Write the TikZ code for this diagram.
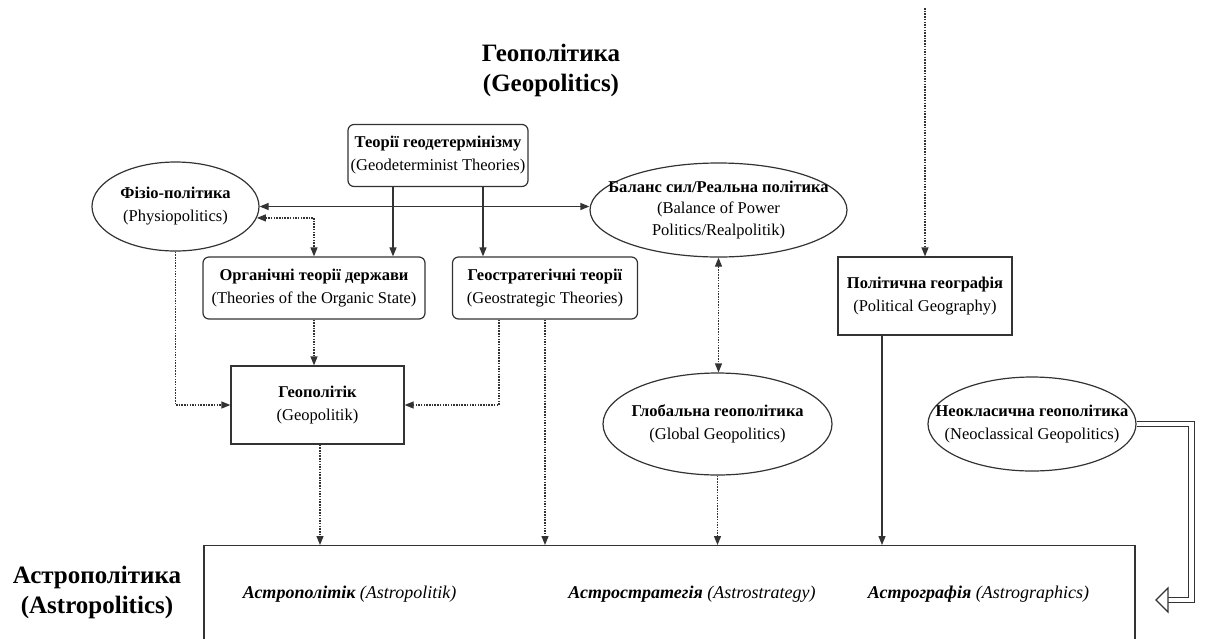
\documentclass[tikz,border=0pt]{standalone}
\usepackage{fontspec}
\setmainfont{Liberation Serif}
\usetikzlibrary{shapes.geometric,arrows.meta}
\tikzset{
  txt/.style={align=center, font=\fontsize{16.5}{23}\selectfont},
  box/.style={txt, draw=black!80, line width=1.2pt, inner sep=2pt},
  rbox/.style={box, rounded corners=6pt},
  ell/.style={box, ellipse, inner sep=0pt},
  line/.style={draw=black!80, line width=1.2pt},
  dotline/.style={line, dash pattern=on 1.5pt off 1.2pt},
}
\begin{document}
\begin{tikzpicture}[x=1pt, y=-1pt, >={Triangle[length=9pt,width=7pt]}]
  \clip (0,0) rectangle (1206,638);
  \node[txt, font=\fontsize{25}{30}\selectfont\bfseries] (title) at (551,70) {Геополітика\\(Geopolitics)};
  \node[rbox, minimum width=180pt, minimum height=62pt] (geodet) at (438,155.5) {\textbf{Теорії геодетермінізму}\\(Geodeterminist Theories)};
  \node[ell, minimum width=167pt, minimum height=89pt, label={[txt]center:{\textbf{Фізіо-політика}\\(Physiopolitics)}}] (physio) at (175.5,206.5) {};
  \node[ell, minimum width=257pt, minimum height=94pt, label={[txt, font=\fontsize{16.5}{21.5}\selectfont]center:{\textbf{Баланс сил/Реальна політика}\\(Balance of Power\\Politics/Realpolitik)}}] (balance) at (718.5,210) {};
  \node[rbox, minimum width=222pt, minimum height=62pt] (organic) at (314,288) {\textbf{Органічні теорії держави}\\(Theories of the Organic State)};
  \node[rbox, minimum width=185pt, minimum height=62pt] (geostrat) at (545,288) {\textbf{Геостратегічні теорії}\\(Geostrategic Theories)};
  \node[box, minimum width=174pt, minimum height=78pt] (polgeo) at (925,296) {\textbf{Політична географія}\\(Political Geography)};
  \node[box, minimum width=173pt, minimum height=78pt] (geopolitik) at (317.5,405) {\textbf{Геополітік}\\(Geopolitik)};
  \node[ell, minimum width=229pt, minimum height=102pt, label={[txt]center:{\textbf{Глобальна геополітика}\\(Global Geopolitics)}}] (global) at (717.5,424) {};
  \node[ell, minimum width=208pt, minimum height=94pt, label={[txt]center:{\textbf{Неокласична геополітика}\\(Neoclassical Geopolitics)}}] (neo) at (1032,424) {};
  \node[box, minimum width=931pt, minimum height=120pt, anchor=north] (astro) at (669.5,545) {};
  \node[txt, font=\fontsize{25}{30}\selectfont\bfseries] (astrotitle) at (97,592) {Астрополітика\\(Astropolitics)};
  \node[txt, font=\fontsize{18}{22}\selectfont\itshape] (apolitik) at (349.5,594) {\textbf{Астрополітік} (Astropolitik)};
  \node[txt, font=\fontsize{18}{22}\selectfont\itshape] (astrat) at (692,594) {\textbf{Астростратегія} (Astrostrategy)};
  \node[txt, font=\fontsize{18}{22}\selectfont\itshape] (agraph) at (978.5,594) {\textbf{Астрографія} (Astrographics)};
  \coordinate (topsrc) at (925,8);
  \coordinate (neohead) at (1168,600);
  \coordinate (neotip) at (1156,600);
  \begin{scope}[line, ->]
    \draw[<->] (physio.east) -- (physio.east -| balance.west);
    \draw ([xshift=-45pt]geodet.south) -- ([xshift=-45pt]geodet.south |- organic.north);
    \draw ([xshift=45pt]geodet.south) -- ([xshift=45pt]geodet.south |- geostrat.north);
    \draw ([xshift=-43pt]polgeo.south) -- ([xshift=-43pt]polgeo.south |- astro.north);
  \end{scope}
  \begin{scope}[dotline, ->]
    \draw[<->] (physio.-8) -| (organic.north);
    \draw (organic.south) -- (organic.south |- geopolitik.north);
    \draw (physio.south) |- (geopolitik.west);
    \draw ([xshift=-46pt]geostrat.south) |- (geopolitik.east);
    \draw (geostrat.south) -- (geostrat.south |- astro.north);
    \draw ([xshift=2.5pt]geopolitik.south) -- ([xshift=2.5pt]geopolitik.south |- astro.north);
    \draw[<->] (balance.south) -- (balance.south |- global.north);
    \draw (global.south) -- (global.south |- astro.north);
    \draw (topsrc) -- (polgeo.north);
  \end{scope}
  \draw[line, double, double distance=4.5pt] (neo.east) -- ++(55,0) |- (neohead);
  \draw[line, fill=white] (neotip) -- ++(12,-12) -- ++(0,24) -- cycle;
\end{tikzpicture}
\end{document}
